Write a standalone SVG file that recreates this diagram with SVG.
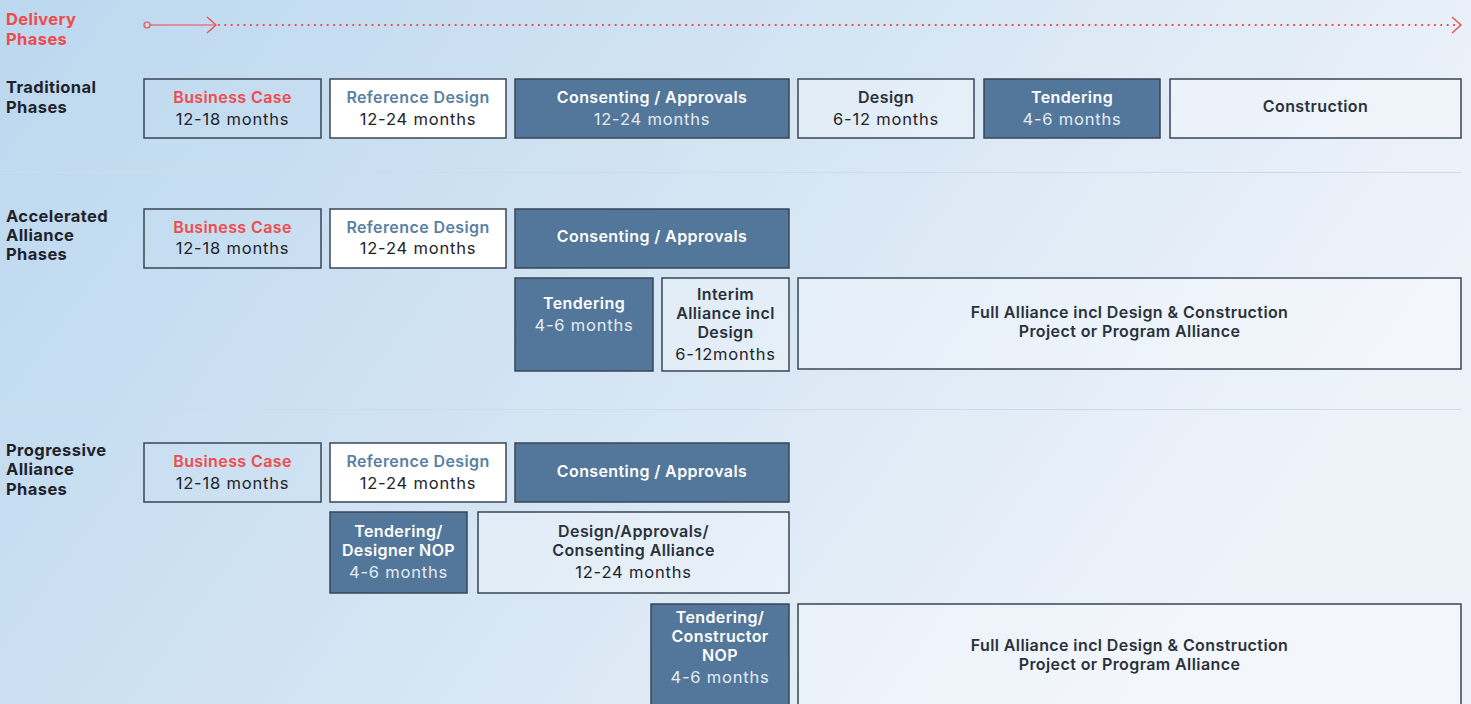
<svg xmlns="http://www.w3.org/2000/svg" width="1471" height="704" viewBox="0 0 1471 704">
<defs>
<linearGradient id="bg" x1="0" y1="0" x2="1" y2="0.35">
<stop offset="0" stop-color="#bcd8ef"/>
<stop offset="0.5" stop-color="#d3e4f3"/>
<stop offset="1" stop-color="#eef3fa"/>
</linearGradient>
<marker id="chev" markerWidth="12" markerHeight="18" refX="10" refY="9" orient="auto" markerUnits="userSpaceOnUse">
<path d="M1,1 L10,9 L1,17" fill="none" stroke="#f04a4a" stroke-width="1.3"/>
</marker>
<style>
text{font-family:Inter,"Liberation Sans",sans-serif;}
.lbl{font-size:16.5px;font-weight:700;fill:#1e232b;letter-spacing:0.4px;}
.red{fill:#f04a4a;}
.box{stroke:#3a4555;stroke-width:1.5;}
.clear{fill:none;}
.white{fill:#ffffff;}
.light{fill:#ffffff;fill-opacity:0.3;}
.dark{fill:#53779a;}
.t{font-size:16px;font-weight:600;text-anchor:middle;fill:#2a313b;letter-spacing:0.4px;}
.m{font-size:16.5px;font-weight:400;text-anchor:middle;fill:#1e232b;letter-spacing:0.8px;}
.tw{fill:#ffffff;}
.mw{fill:#e4ecf4;}
.tr{fill:#f04a4a;}
.tb{fill:#5a7fa4;}
.sep{stroke:#cfdce8;stroke-width:1;}
</style>
</defs>
<rect x="0" y="0" width="1471" height="704" fill="url(#bg)"/>

<g id="labels">
<text class="lbl red" x="6" y="25">Delivery</text>
<text class="lbl red" x="6" y="45">Phases</text>
<text class="lbl" x="6" y="93">Traditional</text>
<text class="lbl" x="6" y="113">Phases</text>
<text class="lbl" x="6" y="222">Accelerated</text>
<text class="lbl" x="6" y="241">Alliance</text>
<text class="lbl" x="6" y="260">Phases</text>
<text class="lbl" x="6" y="456">Progressive</text>
<text class="lbl" x="6" y="475">Alliance</text>
<text class="lbl" x="6" y="495">Phases</text>
</g>

<g id="connectors">
<circle cx="147" cy="25" r="3" fill="none" stroke="#f04a4a" stroke-width="1.2"/>
<line x1="150" y1="25" x2="216" y2="25" stroke="#f04a4a" stroke-width="1.2" marker-end="url(#chev)"/>
<line x1="218" y1="25" x2="1461" y2="25" stroke="#f04a4a" stroke-width="1.8" stroke-dasharray="1.8 4.6" marker-end="url(#chev)"/>
<line class="sep" x1="0" y1="172.5" x2="1461" y2="172.5"/>
<line class="sep" x1="0" y1="409.5" x2="1461" y2="409.5"/>
</g>

<!-- Row 1 -->
<g id="trad-business-case">
<rect class="box clear" x="144" y="79" width="177" height="59"/>
<text class="t tr" x="232.5" y="103">Business Case</text>
<text class="m" x="232.5" y="125">12-18 months</text>
</g>
<g id="trad-reference-design">
<rect class="box white" x="330" y="79" width="176" height="59"/>
<text class="t tb" x="418" y="103">Reference Design</text>
<text class="m" x="418" y="125">12-24 months</text>
</g>
<g id="trad-consenting">
<rect class="box dark" x="515" y="79" width="274" height="59"/>
<text class="t tw" x="652" y="103">Consenting / Approvals</text>
<text class="m mw" x="652" y="125">12-24 months</text>
</g>
<g id="trad-design">
<rect class="box light" x="798" y="79" width="176" height="59"/>
<text class="t" x="886" y="103">Design</text>
<text class="m" x="886" y="125">6-12 months</text>
</g>
<g id="trad-tendering">
<rect class="box dark" x="984" y="79" width="176" height="59"/>
<text class="t tw" x="1072" y="103">Tendering</text>
<text class="m mw" x="1072" y="125">4-6 months</text>
</g>
<g id="trad-construction">
<rect class="box light" x="1170" y="79" width="291" height="59"/>
<text class="t" x="1315.5" y="112">Construction</text>
</g>

<!-- Row 2 -->
<g id="acc-business-case">
<rect class="box clear" x="144" y="209" width="177" height="59"/>
<text class="t tr" x="232.5" y="233">Business Case</text>
<text class="m" x="232.5" y="254">12-18 months</text>
</g>
<g id="acc-reference-design">
<rect class="box white" x="330" y="209" width="176" height="59"/>
<text class="t tb" x="418" y="233">Reference Design</text>
<text class="m" x="418" y="254">12-24 months</text>
</g>
<g id="acc-consenting">
<rect class="box dark" x="515" y="209" width="274" height="59"/>
<text class="t tw" x="652" y="242">Consenting / Approvals</text>
</g>
<g id="acc-tendering">
<rect class="box dark" x="515" y="278" width="138" height="93"/>
<text class="t tw" x="584" y="309">Tendering</text>
<text class="m mw" x="584" y="331">4-6 months</text>
</g>
<g id="acc-interim">
<rect class="box light" x="662" y="278" width="127" height="93"/>
<text class="t" x="725.5" y="300">Interim</text>
<text class="t" x="725.5" y="319">Alliance incl</text>
<text class="t" x="725.5" y="338">Design</text>
<text class="m" x="725.5" y="360">6-12months</text>
</g>
<g id="acc-full-alliance">
<rect class="box light" x="798" y="278" width="663" height="91"/>
<text class="t" x="1129.5" y="318">Full Alliance incl Design &amp; Construction</text>
<text class="t" x="1129.5" y="337">Project or Program Alliance</text>
</g>

<!-- Row 3 -->
<g id="prog-business-case">
<rect class="box clear" x="144" y="443" width="177" height="59"/>
<text class="t tr" x="232.5" y="467">Business Case</text>
<text class="m" x="232.5" y="489">12-18 months</text>
</g>
<g id="prog-reference-design">
<rect class="box white" x="330" y="443" width="176" height="59"/>
<text class="t tb" x="418" y="467">Reference Design</text>
<text class="m" x="418" y="489">12-24 months</text>
</g>
<g id="prog-consenting">
<rect class="box dark" x="515" y="443" width="274" height="59"/>
<text class="t tw" x="652" y="477">Consenting / Approvals</text>
</g>
<g id="prog-tendering-designer">
<rect class="box dark" x="330" y="512" width="137" height="81"/>
<text class="t tw" x="398.5" y="537">Tendering/</text>
<text class="t tw" x="398.5" y="556">Designer NOP</text>
<text class="m mw" x="398.5" y="578">4-6 months</text>
</g>
<g id="prog-design-approvals">
<rect class="box light" x="478" y="512" width="311" height="81"/>
<text class="t" x="633.5" y="537">Design/Approvals/</text>
<text class="t" x="633.5" y="556">Consenting Alliance</text>
<text class="m" x="633.5" y="578">12-24 months</text>
</g>
<g id="prog-tendering-constructor">
<rect class="box dark" x="651" y="604" width="138" height="110"/>
<text class="t tw" x="720" y="623">Tendering/</text>
<text class="t tw" x="720" y="642">Constructor</text>
<text class="t tw" x="720" y="661">NOP</text>
<text class="m mw" x="720" y="683">4-6 months</text>
</g>
<g id="prog-full-alliance">
<rect class="box light" x="798" y="604" width="663" height="110"/>
<text class="t" x="1129.5" y="651">Full Alliance incl Design &amp; Construction</text>
<text class="t" x="1129.5" y="670">Project or Program Alliance</text>
</g>
</svg>
